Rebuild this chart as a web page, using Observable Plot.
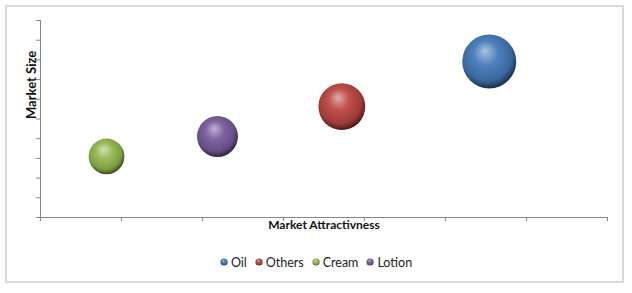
<!DOCTYPE html>
<html>
<head>
<meta charset="utf-8">
<script src="https://cdn.jsdelivr.net/npm/d3@7"></script>
<script src="https://cdn.jsdelivr.net/npm/@observablehq/plot@0.6"></script>
<style>
  html, body { margin: 0; padding: 0; background: #fff; }
  #wrap { position: relative; width: 632px; height: 293px; overflow: hidden; font-family: Lato, "Open Sans", sans-serif; }
  #frame { position: absolute; left: 5px; top: 5px; width: 615px; height: 274px; border: 2px solid #d9d9d9; box-sizing: content-box; }
  #chart { position: absolute; left: 0; top: 0; }
  #legend { position: absolute; left: 0; top: 254px; width: 632px; text-align: center; font-size: 12.5px; color: #222; }
  #legend span.item { display: inline-flex; align-items: center; margin: 0 4px; }
  #legend svg { margin-right: 3px; }
</style>
</head>
<body>
<div id="wrap">
  <div id="frame"></div>
  <div id="chart"></div>
  <div id="legend"></div>
</div>
<script>
const categories = ["Oil", "Others", "Cream", "Lotion"];
const attractiveness = [5.54, 3.72, 0.815, 2.185];
const marketSize = [7.92, 5.63, 3.10, 4.11];
const bubbleSize = [73, 55, 32, 42];
const colors = ["#4f81bd", "#c0504d", "#9bbb59", "#8064a2"];
const xTicks = [0, 1, 2, 3, 4, 5, 6, 7];
const yTicks = [0, 1, 2, 3, 4, 5, 6, 7, 8, 9, 10];

const data = categories.map((c, i) => ({
  name: c, x: attractiveness[i], y: marketSize[i], s: bubbleSize[i], id: "g" + i
}));

function gradStops(base) {
  const c = d3.hsl(base);
  const hi = d3.hsl(c.h, c.s, Math.min(0.85, c.l + 0.25));
  const mid = d3.color(base);
  const dk = d3.hsl(c.h, c.s, c.l * 0.55);
  const dk2 = d3.hsl(c.h, c.s, c.l * 0.4);
  return [[0, hi.formatHex()], [0.4, mid.formatHex()], [0.82, d3.hsl(c.h, c.s, c.l * 0.8).formatHex()], [0.95, dk.formatHex()], [1, dk2.formatHex()]];
}

const gray = "#868686";
const plot = Plot.plot({
  width: 632,
  height: 240,
  marginLeft: 40,
  marginRight: 25,
  marginTop: 20,
  marginBottom: 23,
  style: { fontFamily: "Lato, 'Open Sans', sans-serif", background: "transparent", overflow: "visible" },
  x: { domain: [0, 7] },
  y: { domain: [0, 10] },
  r: { domain: [0, 73], range: [0, 27] },
  marks: [
    Plot.ruleY([0], { stroke: gray, strokeWidth: 1 }),
    Plot.ruleX([0], { stroke: gray, strokeWidth: 1 }),
    Plot.axisX({ ticks: xTicks, tickSize: 4, tickFormat: () => "", stroke: gray, label: null }),
    Plot.axisY({ ticks: yTicks, tickSize: 4, tickFormat: () => "", stroke: gray, label: null }),
    Plot.dot(data, { x: "x", y: "y", r: "s", fill: d => `url(#${d.id})`, stroke: "none" }),
    Plot.text(["Market Attractivness"], { frameAnchor: "bottom", dy: 11, fontWeight: "bold", fontSize: 12, fill: "#111" }),
    Plot.text(["Market Size"], { frameAnchor: "left", dx: -9, rotate: -90, fontWeight: "bold", fontSize: 13, fill: "#111" })
  ]
});

const svg = d3.select(plot);
const defs = svg.insert("defs", ":first-child");
function addGradient(defsSel, id, base) {
  const g = defsSel.append("radialGradient").attr("id", id)
    .attr("cx", "0.46").attr("cy", "0.42").attr("r", "0.56")
    .attr("fx", "0.42").attr("fy", "0.3");
  for (const [o, c] of gradStops(base)) g.append("stop").attr("offset", o).attr("stop-color", c);
}
data.forEach((d, i) => addGradient(defs, d.id, colors[i]));
document.getElementById("chart").appendChild(plot);

const legend = document.getElementById("legend");
categories.forEach((c, i) => {
  const span = document.createElement("span");
  span.className = "item";
  const s = d3.create("svg").attr("width", 8).attr("height", 8);
  addGradient(s.append("defs"), "lg" + i, colors[i]);
  s.append("circle").attr("cx", 4).attr("cy", 4).attr("r", 3.6).attr("fill", `url(#lg${i})`);
  span.appendChild(s.node());
  span.appendChild(document.createTextNode(c));
  legend.appendChild(span);
});
</script>
</body>
</html>
